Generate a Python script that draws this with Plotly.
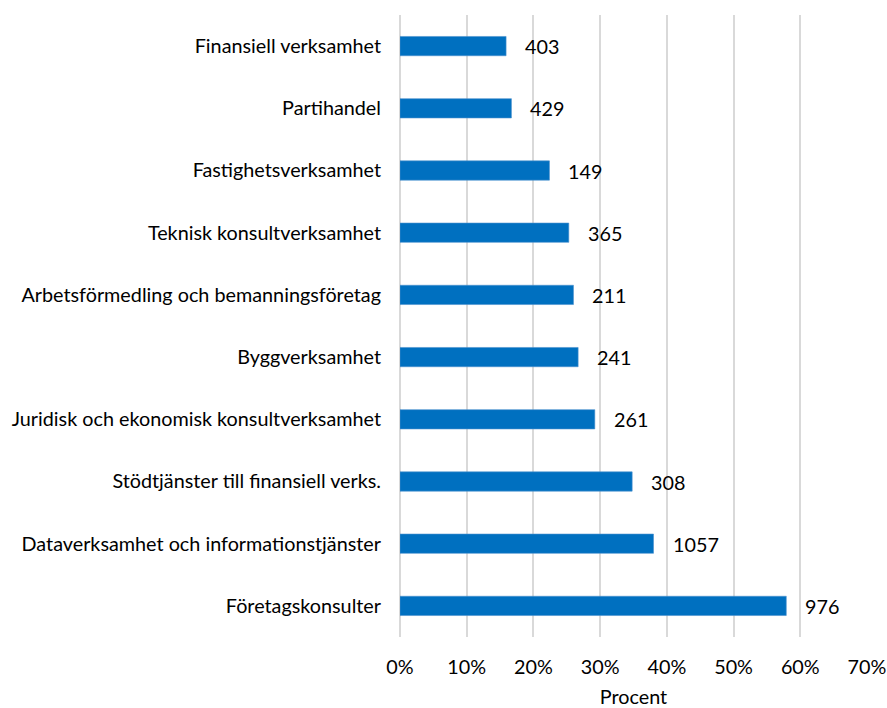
import plotly.graph_objects as go

# categories listed top to bottom as in the chart
categories = [
    "Finansiell verksamhet",
    "Partihandel",
    "Fastighetsverksamhet",
    "Teknisk konsultverksamhet",
    "Arbetsförmedling och bemanningsföretag",
    "Byggverksamhet",
    "Juridisk och ekonomisk konsultverksamhet",
    "Stödtjänster till finansiell verks.",
    "Dataverksamhet och informationstjänster",
    "Företagskonsulter",
]
share = [0.159, 0.167, 0.224, 0.253, 0.260, 0.267, 0.292, 0.348, 0.380, 0.579]
counts = [403, 429, 149, 365, 211, 241, 261, 308, 1057, 976]

FONT = "Lato, 'Open Sans', sans-serif"
FS = 19.8

fig = go.Figure(go.Bar(
    x=share,
    y=categories,
    orientation="h",
    marker=dict(color="#0070C0", line=dict(color="#4A90CF", width=0.6)),
    hoverinfo="skip",
))

# count labels to the right of each bar
annotations = []
for cat, val, n in zip(categories, share, counts):
    annotations.append(dict(
        x=val, y=cat, xref="x", yref="y",
        text=str(n), showarrow=False,
        xanchor="left", xshift=17,
        font=dict(size=FS, color="#000000", family=FONT),
    ))

fig.update_layout(
    width=887,
    height=708,
    plot_bgcolor="white",
    paper_bgcolor="white",
    bargap=0.69,
    showlegend=False,
    font=dict(family=FONT, size=FS, color="#000000"),
    margin=dict(l=400, r=20, t=15, b=71),
    annotations=annotations,
    xaxis=dict(
        range=[0, 0.7],
        dtick=0.1,
        tickformat=".0%",
        showgrid=True,
        gridcolor="#d9d9d9",
        gridwidth=1.5,
        zeroline=True,
        zerolinecolor="#d9d9d9",
        zerolinewidth=1.5,
        showline=False,
        automargin=False,
        ticklabelstandoff=16,
        title=dict(text="Procent", standoff=18, font=dict(size=FS)),
    ),
    yaxis=dict(
        autorange="reversed",
        showgrid=False,
        showline=False,
        automargin=False,
        ticklabelstandoff=18,
    ),
)

# page has a default body margin; drop it so the figure sits at the corner
fig.write_html(
    "out.html",
    config={"displayModeBar": False},
    post_script="document.body.style.margin='0';",
)
